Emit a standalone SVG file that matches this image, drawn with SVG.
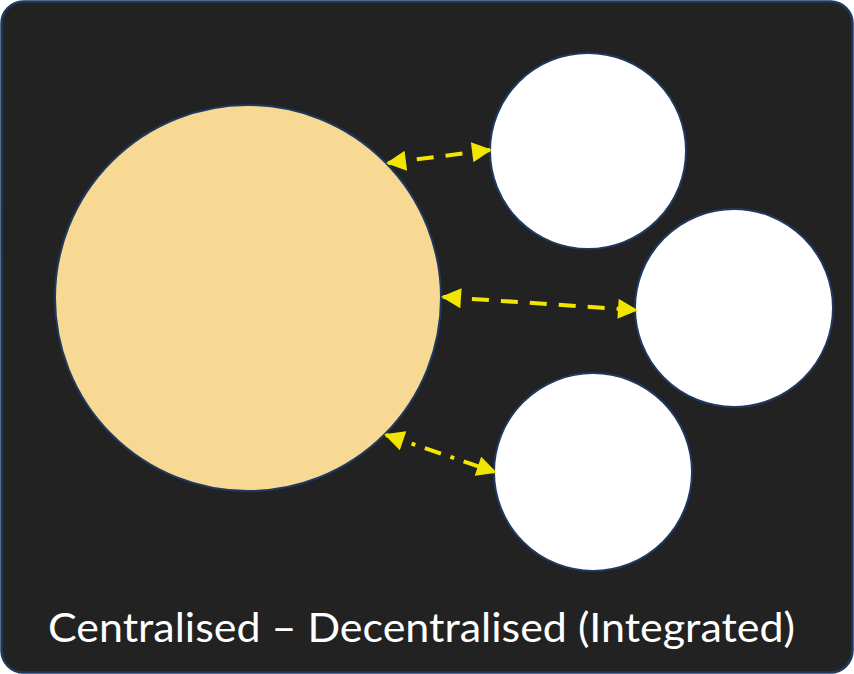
<svg xmlns="http://www.w3.org/2000/svg" width="854" height="674" viewBox="0 0 854 674">
<defs>
<style>
.bg{fill:#222222;stroke:#1f3a60;stroke-width:2.5}
.node{stroke:#1f3a60;stroke-width:2}
.conn{stroke:#f2e500;stroke-width:4;fill:none}
.lbl{font-family:Lato,"Liberation Sans",sans-serif;font-size:41px;fill:#ffffff}
</style>
<marker id="ah" viewBox="0 0 10 10" refX="9" refY="5" markerWidth="5.2" markerHeight="5" orient="auto-start-reverse" markerUnits="strokeWidth">
<path d="M0,0 L10,5 L0,10 Z" fill="#f2e500"/>
</marker>
</defs>
<rect class="bg" x="1.5" y="1.5" width="851" height="671" rx="22" ry="22"/>
<g id="central"><circle class="node" cx="248" cy="298" r="193" fill="#f8d993"/></g>
<g id="node1"><circle class="node" cx="588" cy="151" r="98" fill="#ffffff"/></g>
<g id="node2"><circle class="node" cx="734" cy="308" r="99" fill="#ffffff"/></g>
<g id="node3"><circle class="node" cx="593" cy="472" r="99" fill="#ffffff"/></g>
<g id="connectors">
<line class="conn" x1="388" y1="163" x2="490" y2="150" stroke-dasharray="17,12" marker-start="url(#ah)" marker-end="url(#ah)"/>
<line class="conn" x1="443" y1="297" x2="636" y2="310" stroke-dasharray="17,12" marker-start="url(#ah)" marker-end="url(#ah)"/>
<line class="conn" x1="386" y1="435" x2="495" y2="472" stroke-dasharray="17,10,4,10" marker-start="url(#ah)" marker-end="url(#ah)"/>
</g>
<text class="lbl" x="48" y="642" textLength="747" lengthAdjust="spacingAndGlyphs">Centralised – Decentralised (Integrated)</text>
</svg>
